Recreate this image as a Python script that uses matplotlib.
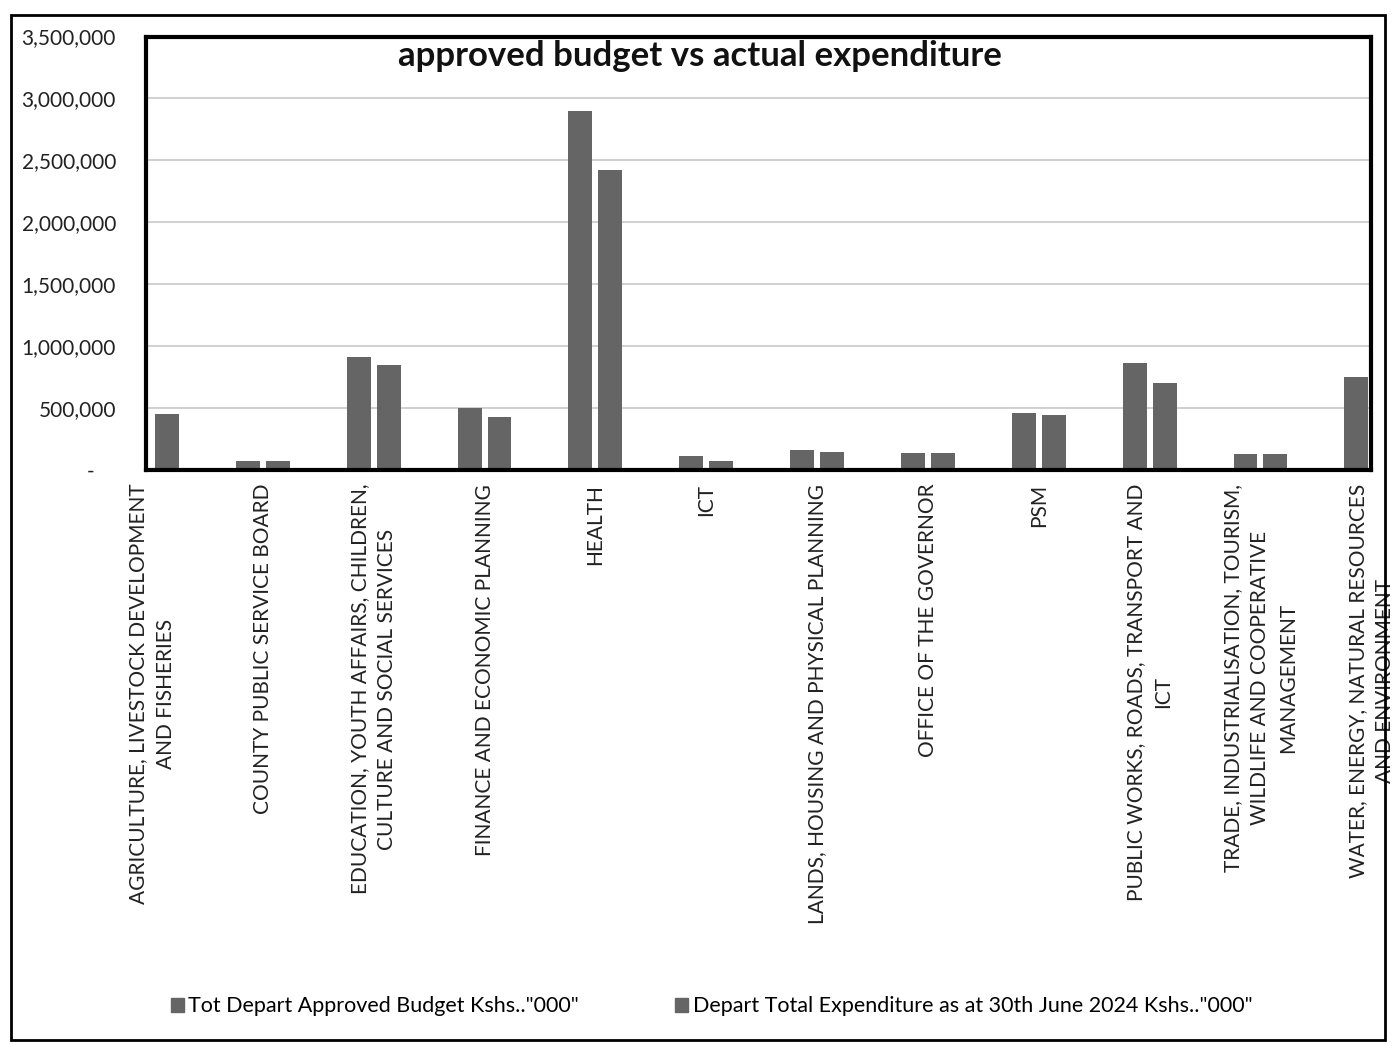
"""approved budget vs actual expenditure - grouped bar chart"""
import numpy as np
import matplotlib
matplotlib.use('Agg')
import matplotlib.pyplot as plt
from matplotlib.patches import Patch, Rectangle
from matplotlib.ticker import FuncFormatter

plt.rcParams['font.family'] = ['Lato', 'DejaVu Sans']

DEPARTMENTS = [
    'AGRICULTURE, LIVESTOCK DEVELOPMENT\nAND FISHERIES',
    'COUNTY PUBLIC SERVICE BOARD',
    'EDUCATION, YOUTH AFFAIRS, CHILDREN,\nCULTURE AND SOCIAL SERVICES',
    'FINANCE AND ECONOMIC PLANNING',
    'HEALTH',
    'ICT',
    'LANDS, HOUSING AND PHYSICAL PLANNING',
    'OFFICE OF THE GOVERNOR',
    'PSM',
    'PUBLIC WORKS, ROADS, TRANSPORT AND\nICT',
    'TRADE, INDUSTRIALISATION, TOURISM,\nWILDLIFE AND COOPERATIVE\nMANAGEMENT',
    'WATER, ENERGY, NATURAL RESOURCES\nAND ENVIRONMENT',
]
# values in Kshs '000; bars cut off by the chart edge are unknown (nan)
BUDGET = [np.nan, 70000, 910000, 500000, 2900000, 112000, 160000, 135000,
          455000, 860000, 128000, 750000]
EXPENDITURE = [450000, 70000, 850000, 425000, 2420000, 70000, 145000, 135000,
               440000, 700000, 128000, np.nan]
SERIES = ['Tot Depart Approved Budget Kshs.."000"',
          'Depart Total Expenditure as at 30th June 2024 Kshs.."000"']
BAR_COLOR = '#656565'

fig = plt.figure(figsize=(13.95, 10.44), dpi=100)
ax = fig.add_axes([0.105, 0.55, 0.878, 0.415])

x = np.arange(len(DEPARTMENTS))
w = 0.216
ax.bar(x - 0.135, BUDGET, w, color=BAR_COLOR)
ax.bar(x + 0.135, EXPENDITURE, w, color=BAR_COLOR)

ax.set_xlim(-0.05, len(DEPARTMENTS) - 1.02)
ax.set_ylim(0, 3500000)
ax.set_yticks(np.arange(0, 3500001, 500000))
ax.yaxis.set_major_formatter(FuncFormatter(lambda v, p: '-    ' if v == 0 else f'{v:,.0f}'))
ax.tick_params(axis='y', length=0, labelsize=15, pad=22, labelcolor='#222222')
ax.tick_params(axis='x', length=0, pad=10)
ax.set_xticks(x)
ax.set_xticklabels(DEPARTMENTS, rotation=90, fontsize=15, multialignment='center',
                   linespacing=1.45, color='#222222')
ax.grid(True, axis='y', color='#c8c8cc', lw=1.2)
ax.set_axisbelow(True)
for s in ax.spines.values():
    s.set_linewidth(3)
    s.set_color('black')

fig.text(0.502, 0.946, 'approved budget vs actual expenditure', ha='center',
         va='center', fontsize=25, fontweight='bold', color='#111111')

handles = [Patch(color=BAR_COLOR), Patch(color=BAR_COLOR)]
fig.legend(handles, SERIES, loc='center', bbox_to_anchor=(0.51, 0.036), ncol=2,
           frameon=False, fontsize=15.5, handlelength=0.6, handleheight=0.6,
           handletextpad=0.2, columnspacing=4.5)

# outer chart-area frame
fig.patches.append(Rectangle((0.008, 0.004), 0.985, 0.982, transform=fig.transFigure,
                             fill=False, edgecolor='black', lw=2))

fig.savefig('out.png', dpi=100)
